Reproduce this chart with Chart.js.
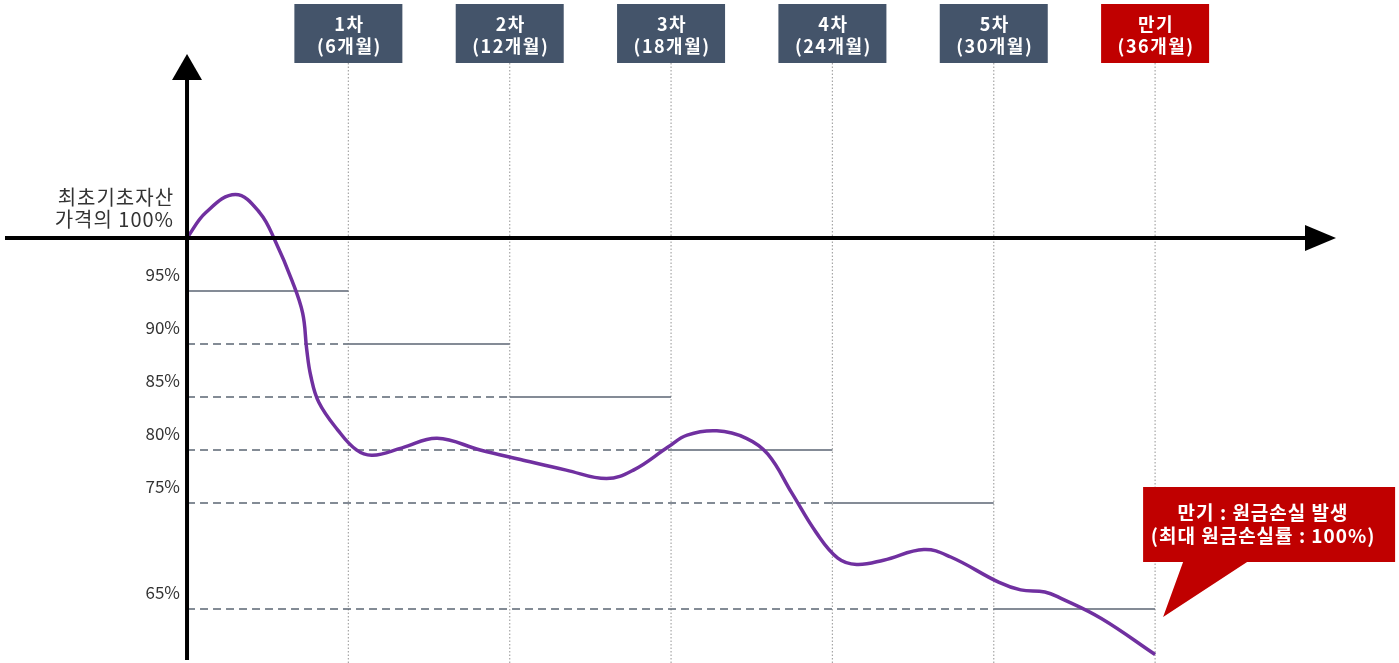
<!DOCTYPE html>
<html>
<head>
<meta charset="utf-8">
<script src="https://cdn.jsdelivr.net/npm/chart.js@4"></script>
<style>
  html, body { margin: 0; padding: 0; background: #fff; }
  #wrap { width: 1399px; height: 663px; position: relative; }
</style>
</head>
<body>
<div id="wrap"><canvas id="myChart"></canvas></div>
<script>
// observation dates (months) and the knock-out barrier at each one
const obsMonths = [6, 12, 18, 24, 30, 36];
const barrierLevels = [95, 90, 85, 80, 75, 65];
const obsLabels = [
  ["1차", "(6개월)"],
  ["2차", "(12개월)"],
  ["3차", "(18개월)"],
  ["4차", "(24개월)"],
  ["5차", "(30개월)"],
  ["만기", "(36개월)"]
];
const yTickLabels = ["95%", "90%", "85%", "80%", "75%", "65%"];

// underlying price path (% of initial price)
const pathMonths = [0, 0.7, 1.8, 2.7, 3.3, 3.9, 4.3, 4.45, 4.6, 4.9, 5.6, 6.3, 6.9, 8.0, 9.3, 10.9, 12.4, 14.1, 15.6, 16.6, 17.9, 18.6, 19.7, 20.8, 21.6, 22.5, 23.4, 24.2, 24.9, 25.9, 27.4, 28.4, 30.2, 31.0, 31.9, 32.5, 34.0, 36.0];
const pathValues = [100, 102.4, 104.1, 102.4, 99.6, 96.0, 92.9, 89.5, 87.0, 84.5, 81.9, 80.0, 79.5, 80.2, 81.1, 80.0, 79.1, 78.1, 77.3, 78.1, 80.3, 81.4, 81.8, 81.1, 79.6, 75.9, 72.2, 69.8, 69.2, 69.6, 70.6, 69.9, 67.5, 66.8, 66.6, 66.0, 64.1, 60.7];

const startLabel = ["최초기초자산", "가격의 100%"];
const calloutLines = ["만기 : 원금손실 발생", "(최대 원금손실률 : 100%)"];

const FONT = "'Noto Sans CJK KR', 'Noto Sans', sans-serif";
const slate = "#44546A";
const red = "#C00000";
const barrierColor = "#5B6573";

const datasets = [];
barrierLevels.forEach((lvl, i) => {
  const from = i === 0 ? 0 : obsMonths[i - 1];
  if (i > 0) {
    datasets.push({
      data: [{ x: 0, y: lvl }, { x: from, y: lvl }],
      borderColor: barrierColor, borderWidth: 1.6, borderDash: [8, 5],
      pointRadius: 0, order: 3
    });
  }
  datasets.push({
    data: [{ x: from, y: lvl }, { x: obsMonths[i], y: lvl }],
    borderColor: barrierColor, borderWidth: 1.6,
    pointRadius: 0, order: 3
  });
});
datasets.push({
  data: pathMonths.map((m, i) => ({ x: m, y: pathValues[i] })),
  borderColor: "#7030A0", borderWidth: 3.5,
  tension: 0.4,
  pointRadius: 0, order: 1
});

function text(ctx, str, px, py, spacing) {
  ctx.letterSpacing = spacing + "px";
  ctx.fillText(str, px, py);
  ctx.letterSpacing = "0px";
}

const decor = {
  id: "decor",
  beforeDatasetsDraw(chart) {
    const { ctx, scales: { x }, chartArea } = chart;
    ctx.save();
    // dotted observation lines
    ctx.strokeStyle = "#A6A6A6";
    ctx.lineWidth = 1.2;
    ctx.setLineDash([1.5, 2]);
    obsMonths.forEach(m => {
      const px = x.getPixelForValue(m);
      ctx.beginPath();
      ctx.moveTo(px, 63);
      ctx.lineTo(px, chartArea.bottom);
      ctx.stroke();
    });
    ctx.restore();
  },
  afterDatasetsDraw(chart) {
    const { ctx, scales: { x, y }, chartArea } = chart;
    const x0 = x.getPixelForValue(0);
    const y100 = y.getPixelForValue(100);
    ctx.save();
    // axes
    ctx.strokeStyle = "#000";
    ctx.fillStyle = "#000";
    ctx.lineWidth = 4;
    ctx.beginPath();
    ctx.moveTo(5, y100);
    ctx.lineTo(1310, y100);
    ctx.moveTo(x0, chartArea.bottom - 3);
    ctx.lineTo(x0, 78);
    ctx.stroke();
    ctx.beginPath();
    ctx.moveTo(1336, y100);
    ctx.lineTo(1305, y100 - 13);
    ctx.lineTo(1305, y100 + 13);
    ctx.closePath();
    ctx.fill();
    ctx.beginPath();
    ctx.moveTo(x0, 54);
    ctx.lineTo(x0 - 15, 80);
    ctx.lineTo(x0 + 15, 80);
    ctx.closePath();
    ctx.fill();

    // y labels
    ctx.fillStyle = "#333";
    ctx.font = "17px " + FONT;
    ctx.textAlign = "right";
    ctx.textBaseline = "middle";
    barrierLevels.forEach((lvl, i) => {
      text(ctx, yTickLabels[i], x0 - 7, y.getPixelForValue(lvl) - 16, 0);
    });
    ctx.font = "20px " + FONT;
    text(ctx, startLabel[0], x0 - 13, y100 - 41, 1);
    text(ctx, startLabel[1], x0 - 13, y100 - 19, 1);

    // observation boxes
    ctx.textAlign = "center";
    ctx.font = "bold 18px " + FONT;
    obsMonths.forEach((m, i) => {
      const px = x.getPixelForValue(m);
      ctx.fillStyle = i === obsMonths.length - 1 ? red : slate;
      ctx.fillRect(px - 54, 4, 108, 59);
      ctx.fillStyle = "#fff";
      text(ctx, obsLabels[i][0], px + 1, 24, 1.5);
      text(ctx, obsLabels[i][1], px + 1, 46, 1.5);
    });

    // callout at maturity
    const mx = x.getPixelForValue(36);
    const my = y.getPixelForValue(65);
    ctx.fillStyle = red;
    ctx.beginPath();
    ctx.moveTo(mx - 12, my - 122);
    ctx.lineTo(mx + 240, my - 122);
    ctx.lineTo(mx + 240, my - 47);
    ctx.lineTo(mx + 92, my - 47);
    ctx.lineTo(mx + 8, my + 8);
    ctx.lineTo(mx + 28, my - 47);
    ctx.lineTo(mx - 12, my - 47);
    ctx.closePath();
    ctx.fill();
    ctx.fillStyle = "#fff";
    ctx.font = "bold 19px " + FONT;
    text(ctx, calloutLines[0], mx + 108, my - 96, 1);
    text(ctx, calloutLines[1], mx + 108, my - 73, 1);
    ctx.restore();
  }
};

new Chart(document.getElementById("myChart"), {
  type: "line",
  data: { datasets },
  options: {
    responsive: true,
    maintainAspectRatio: false,
    animation: false,
    layout: { padding: 0 },
    plugins: { legend: { display: false }, tooltip: { enabled: false } },
    scales: {
      x: { type: "linear", min: -6.955, max: 45.07, display: false },
      y: { type: "linear", min: 59.9, max: 122.45, display: false }
    }
  },
  plugins: [decor]
});
</script>
</body>
</html>
